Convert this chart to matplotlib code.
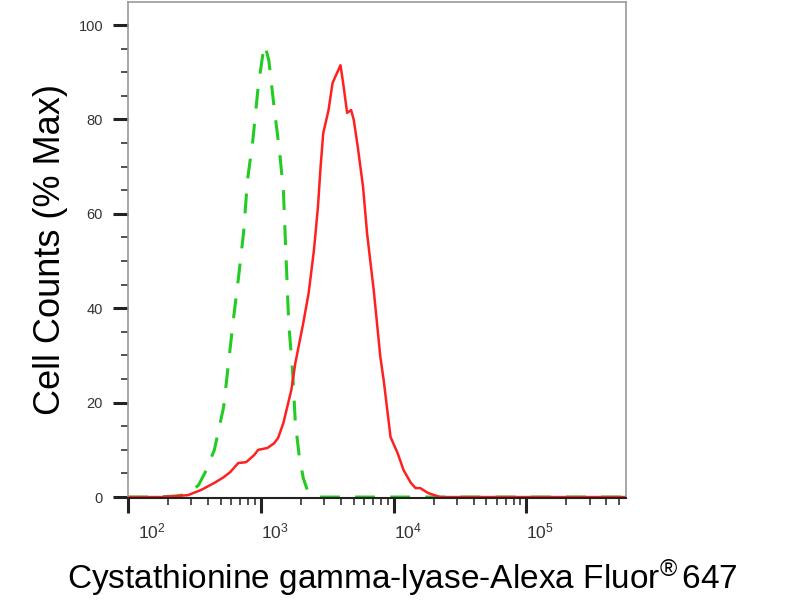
import numpy as np
import matplotlib
matplotlib.use("Agg")
import matplotlib.pyplot as plt
import matplotlib.ticker as mticker
from matplotlib.transforms import ScaledTranslation

plt.rcParams['font.family'] = ['Liberation Sans', 'DejaVu Sans']
plt.rcParams['mathtext.fontset'] = 'custom'
plt.rcParams['mathtext.rm'] = 'Liberation Sans'
plt.rcParams['mathtext.it'] = 'Liberation Sans:italic'
plt.rcParams['mathtext.bf'] = 'Liberation Sans:bold'

# --- isotype control (green dashed) ---
iso_x = [100, 148, 229, 282, 339, 389, 447, 525, 617, 676, 741, 794, 871, 955,
         1047, 1072, 1148, 1259, 1380, 1479, 1549, 1622, 1738, 1820, 1950, 2089,
         2239, 2692, 562000]
iso_y = [0, 0, 0.2, 0.6, 2.5, 5.7, 10.0, 19.1, 36.9, 46.0, 55.9, 67.2, 75.6, 86.9,
         94.7, 95.8, 92.6, 82.6, 73.5, 65.0, 50.8, 36.9, 26.3, 15.7, 8.5, 4.0,
         1.5, 0, 0]

# --- CTH stained sample (red) ---
cth_x = [100, 178, 282, 355, 447, 525, 589, 676, 776, 891, 955, 1122, 1259, 1349,
         1479, 1698, 1820, 2089, 2291, 2512, 2692, 2818, 2951, 3236, 3467, 3631,
         3981, 4169, 4467, 4786, 5012, 5370, 5888, 6310, 7079, 7943, 8414, 9016,
         9484, 10720, 11885, 13490, 14620, 15850, 18200, 22390, 562000]
cth_y = [0, 0, 0.4, 1.5, 3.0, 4.2, 5.3, 7.2, 7.4, 8.9, 10.0, 10.4, 11.4, 12.5,
         15.7, 22.7, 28.4, 36.9, 43.2, 52.3, 61.4, 69.9, 77.1, 82.0, 87.7, 89.0,
         91.5, 87.7, 81.4, 82.0, 79.9, 74.2, 65.7, 55.9, 43.9, 29.7, 24.8, 17.8,
         12.7, 9.3, 5.7, 3.0, 1.9, 1.9, 0.85, 0, 0]

y_ticks = [0, 20, 40, 60, 80, 100]
x_major = [1e2, 1e3, 1e4, 1e5]

fig = plt.figure(figsize=(8, 6), dpi=100)
ax = fig.add_axes([0.16, 0.17, 0.6225, 0.8267])

ax.plot(iso_x, iso_y, color='#22cc22', lw=2.2, linestyle=(0, (6.5, 5)))
ax.plot(cth_x, cth_y, color='#ff2020', lw=1.8)

ax.set_xscale('log')
ax.set_xlim(100, 562000)
ax.set_ylim(-0.2, 104.9)

ax.set_yticks(y_ticks)
ax.yaxis.set_minor_locator(mticker.MultipleLocator(5))
ax.set_xticks(x_major)
ax.set_xticklabels([r'$10^{%d}$' % int(np.log10(v)) for v in x_major])
ax.xaxis.set_minor_locator(mticker.LogLocator(base=10, subs=np.arange(2, 10)))
ax.xaxis.set_minor_formatter(mticker.NullFormatter())

ax.tick_params(axis='both', which='major', direction='out', length=11, width=2.2,
               color='#222222')
ax.tick_params(axis='y', which='major', labelsize=10.5, pad=7, labelcolor='#333333')
ax.tick_params(axis='x', which='major', labelsize=12.5, pad=6, labelcolor='#333333')
ax.tick_params(axis='both', which='minor', direction='out', length=5, width=1.2,
               color='#333333')

for lab in ax.get_xticklabels():
    lab.set_horizontalalignment('left')
first = ax.get_xticklabels()[0]
first.set_transform(first.get_transform() + ScaledTranslation(0.1, 0, fig.dpi_scale_trans))

for side in ['top', 'right', 'left']:
    ax.spines[side].set_color('#999999')
    ax.spines[side].set_linewidth(1.2)
ax.spines['bottom'].set_color('#222222')
ax.spines['bottom'].set_linewidth(1.5)

ax.set_ylabel('Cell Counts (% Max)', fontsize=26, va='center')
ax.yaxis.set_label_coords(-0.155, 0.5)
ax.set_xlabel('Cystathionine gamma-lyase-Alexa Fluor$^{\u00ae}\\,$647', fontsize=24,
              va='center')
ax.xaxis.set_label_coords(0.55, -0.161)

fig.savefig('out.png', dpi=100)
